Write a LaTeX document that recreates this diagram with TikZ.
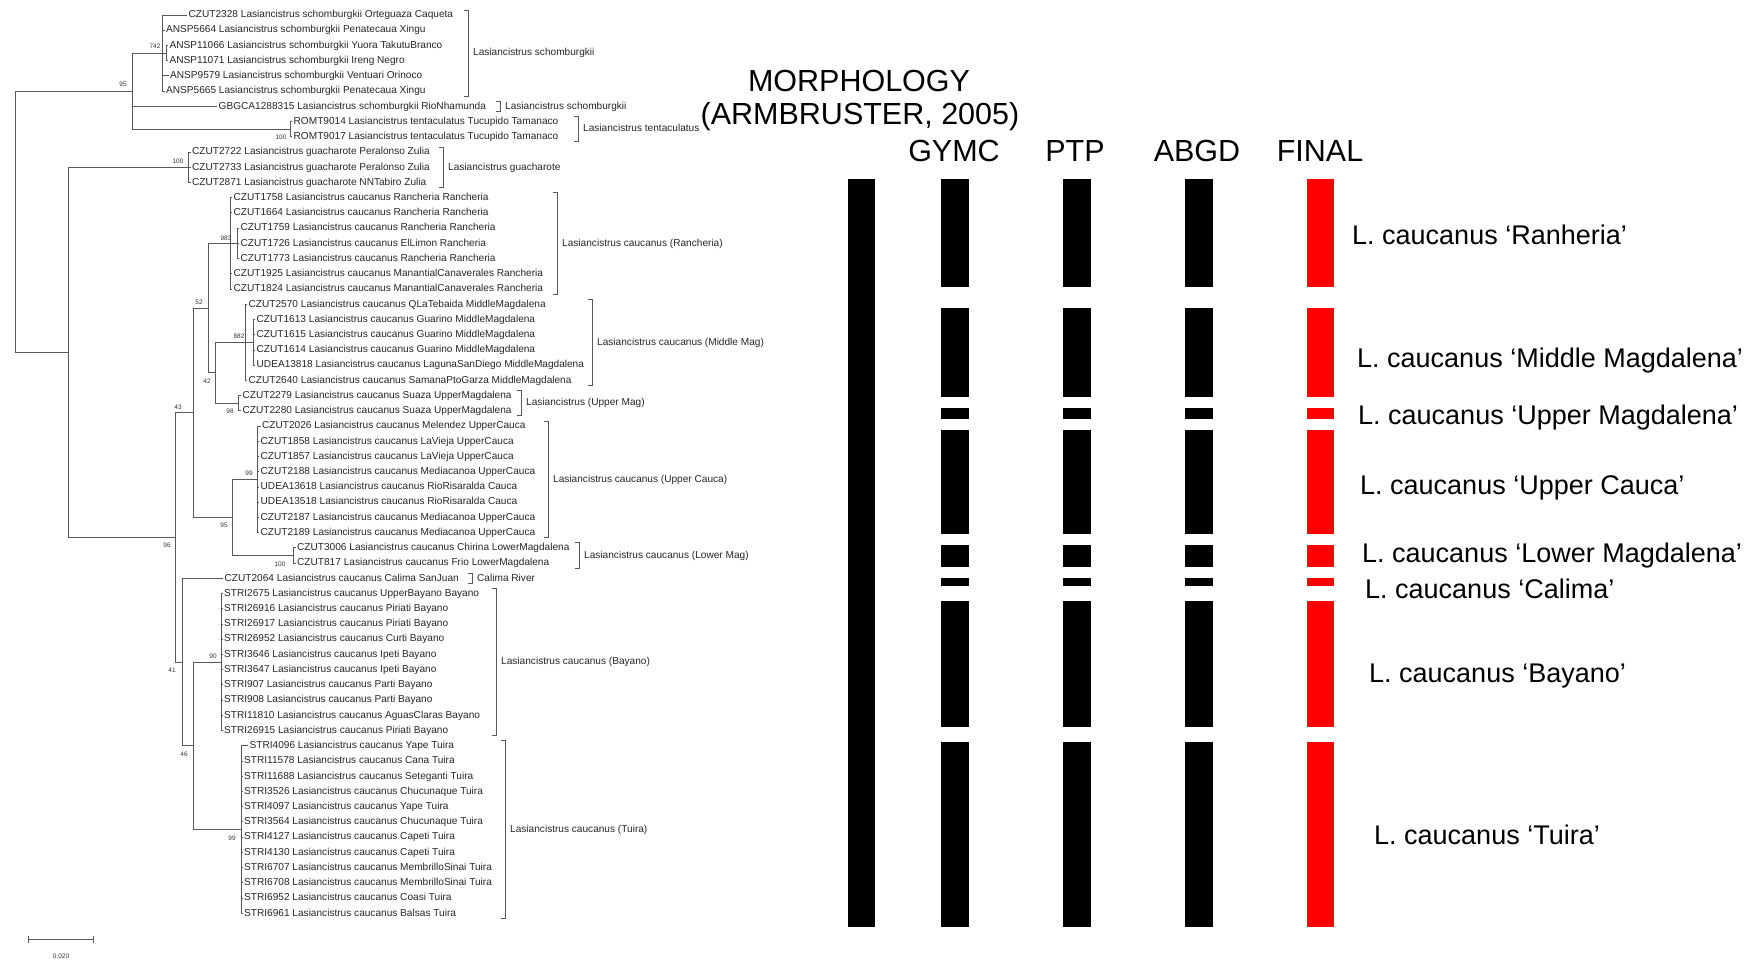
\documentclass[tikz,border=0pt]{standalone}
\usepackage{fontspec}
\setmainfont{Liberation Sans}
\usetikzlibrary{positioning, calc}

\tikzset{
  branch/.style={draw=black!65, line width=0.9pt},
  leaf/.style={anchor=west, inner sep=1.5pt, text height=7pt, text depth=1.5pt, text=black!85, font=\fontsize{10.1}{10}\selectfont},
  support/.style={inner sep=0pt, text=black!80, font=\fontsize{6.5}{7}\selectfont},
  clade/.style={anchor=west, inner sep=0pt, text height=7pt, text depth=1.5pt, text=black!85, font=\fontsize{10.1}{10}\selectfont},
  colhead/.style={inner sep=0pt, font=\fontsize{30.5}{31}\selectfont},
  species/.style={anchor=west, inner sep=0pt, text height=19.5pt, text depth=0pt, font=\fontsize{27}{28}\selectfont},
}

\begin{document}
\begin{tikzpicture}[x=1pt, y=-1pt]
  \useasboundingbox (0,0) rectangle (1757,962);

  \foreach \i/\x/\t in {
    1/187/{CZUT2328 Lasiancistrus schomburgkii Orteguaza Caqueta},
    2/164.5/{ANSP5664 Lasiancistrus schomburgkii Penatecaua Xingu},
    3/168/{ANSP11066 Lasiancistrus schomburgkii Yuora TakutuBranco},
    4/168/{ANSP11071 Lasiancistrus schomburgkii Ireng Negro},
    5/168.5/{ANSP9579 Lasiancistrus schomburgkii Ventuari Orinoco},
    6/164.5/{ANSP5665 Lasiancistrus schomburgkii Penatecaua Xingu},
    7/217/{GBGCA1288315 Lasiancistrus schomburgkii RioNhamunda},
    8/292/{ROMT9014 Lasiancistrus tentaculatus Tucupido Tamanaco},
    9/292/{ROMT9017 Lasiancistrus tentaculatus Tucupido Tamanaco},
    10/190.5/{CZUT2722 Lasiancistrus guacharote Peralonso Zulia},
    11/190.5/{CZUT2733 Lasiancistrus guacharote Peralonso Zulia},
    12/190.5/{CZUT2871 Lasiancistrus guacharote NNTabiro Zulia},
    13/232/{CZUT1758 Lasiancistrus caucanus Rancheria Rancheria},
    14/232/{CZUT1664 Lasiancistrus caucanus Rancheria Rancheria},
    15/239/{CZUT1759 Lasiancistrus caucanus Rancheria Rancheria},
    16/239/{CZUT1726 Lasiancistrus caucanus ElLimon Rancheria},
    17/239/{CZUT1773 Lasiancistrus caucanus Rancheria Rancheria},
    18/232/{CZUT1925 Lasiancistrus caucanus ManantialCanaverales Rancheria},
    19/232/{CZUT1824 Lasiancistrus caucanus ManantialCanaverales Rancheria},
    20/247/{CZUT2570 Lasiancistrus caucanus QLaTebaida MiddleMagdalena},
    21/255/{CZUT1613 Lasiancistrus caucanus Guarino MiddleMagdalena},
    22/255/{CZUT1615 Lasiancistrus caucanus Guarino MiddleMagdalena},
    23/255/{CZUT1614 Lasiancistrus caucanus Guarino MiddleMagdalena},
    24/255/{UDEA13818 Lasiancistrus caucanus LagunaSanDiego MiddleMagdalena},
    25/247/{CZUT2640 Lasiancistrus caucanus SamanaPtoGarza MiddleMagdalena},
    26/241/{CZUT2279 Lasiancistrus caucanus Suaza UpperMagdalena},
    27/241/{CZUT2280 Lasiancistrus caucanus Suaza UpperMagdalena},
    28/260.5/{CZUT2026 Lasiancistrus caucanus Melendez UpperCauca},
    29/259/{CZUT1858 Lasiancistrus caucanus LaVieja UpperCauca},
    30/259/{CZUT1857 Lasiancistrus caucanus LaVieja UpperCauca},
    31/259/{CZUT2188 Lasiancistrus caucanus Mediacanoa UpperCauca},
    32/259/{UDEA13618 Lasiancistrus caucanus RioRisaralda Cauca},
    33/259/{UDEA13518 Lasiancistrus caucanus RioRisaralda Cauca},
    34/259/{CZUT2187 Lasiancistrus caucanus Mediacanoa UpperCauca},
    35/259/{CZUT2189 Lasiancistrus caucanus Mediacanoa UpperCauca},
    36/295.5/{CZUT3006 Lasiancistrus caucanus Chirina LowerMagdalena},
    37/295.5/{CZUT817 Lasiancistrus caucanus Frio LowerMagdalena},
    38/223/{CZUT2064 Lasiancistrus caucanus Calima SanJuan},
    39/222.5/{STRI2675 Lasiancistrus caucanus UpperBayano Bayano},
    40/222.5/{STRI26916 Lasiancistrus caucanus Piriati Bayano},
    41/222.5/{STRI26917 Lasiancistrus caucanus Piriati Bayano},
    42/222.5/{STRI26952 Lasiancistrus caucanus Curti Bayano},
    43/222.5/{STRI3646 Lasiancistrus caucanus Ipeti Bayano},
    44/222.5/{STRI3647 Lasiancistrus caucanus Ipeti Bayano},
    45/222.5/{STRI907 Lasiancistrus caucanus Parti Bayano},
    46/222.5/{STRI908 Lasiancistrus caucanus Parti Bayano},
    47/222.5/{STRI11810 Lasiancistrus caucanus AguasClaras Bayano},
    48/222.5/{STRI26915 Lasiancistrus caucanus Piriati Bayano},
    49/248/{STRI4096 Lasiancistrus caucanus Yape Tuira},
    50/242.5/{STRI11578 Lasiancistrus caucanus Cana Tuira},
    51/242.5/{STRI11688 Lasiancistrus caucanus Seteganti Tuira},
    52/242.5/{STRI3526 Lasiancistrus caucanus Chucunaque Tuira},
    53/242.5/{STRI4097 Lasiancistrus caucanus Yape Tuira},
    54/242.5/{STRI3564 Lasiancistrus caucanus Chucunaque Tuira},
    55/242.5/{STRI4127 Lasiancistrus caucanus Capeti Tuira},
    56/242.5/{STRI4130 Lasiancistrus caucanus Capeti Tuira},
    57/242.5/{STRI6707 Lasiancistrus caucanus MembrilloSinai Tuira},
    58/242.5/{STRI6708 Lasiancistrus caucanus MembrilloSinai Tuira},
    59/242.5/{STRI6952 Lasiancistrus caucanus Coasi Tuira},
    60/242.5/{STRI6961 Lasiancistrus caucanus Balsas Tuira}} {
    \pgfmathsetmacro\ly{15+(\i-1)*15.225}
    \node[leaf] (l\i) at (\x,\ly) {\t};
  }

  \coordinate (root) at (15,221.75);
  \coordinate (scht) at (132,91.15);
  \coordinate (sch) at (162,53.1);
  \coordinate (sch34) at (166,53.1);
  \coordinate (tent) at (290,129.2);
  \coordinate (n2) at (68,352.35);
  \coordinate (guach) at (188,167.3);
  \coordinate (n3) at (175,537.4);
  \coordinate (n4) at (193,412.8);
  \coordinate (n5) at (208,308.1);
  \coordinate (ranc) at (230,243.4);
  \coordinate (ranc3) at (237,243.4);
  \coordinate (n6) at (215,372.8);
  \coordinate (mm) at (245,342.35);
  \coordinate (mm4) at (253,342.35);
  \coordinate (um) at (238,403.25);
  \coordinate (nuc) at (232,517.45);
  \coordinate (uc) at (257,479.4);
  \coordinate (lm) at (293,555.5);
  \coordinate (n7) at (182,662.05);
  \coordinate (n8) at (193,745.8);
  \coordinate (bay) at (221,662.1);
  \coordinate (tui) at (241,829.55);

  \draw[branch] (root) |- (scht) (root) |- (n2);
  \draw[branch] (scht) |- (sch) (scht) |- (l7.west) (scht) |- (tent);
  \draw[branch] (sch) |- (sch34) (sch34) |- (l3.west) (sch34) |- (l4.west);
  \foreach \i in {1,2,5,6} \draw[branch] (sch) |- (l\i.west);
  \draw[branch] (tent) |- (l8.west) (tent) |- (l9.west);
  \draw[branch] (n2) |- (guach) (n2) |- (n3);
  \foreach \i in {10,11,12} \draw[branch] (guach) |- (l\i.west);
  \draw[branch] (n3) |- (n4) (n3) |- (n7);
  \draw[branch] (n4) |- (n5) (n4) |- (nuc);
  \draw[branch] (n5) |- (ranc) (n5) |- (n6);
  \draw[branch] (ranc) |- (ranc3);
  \foreach \i in {13,14,18,19} \draw[branch] (ranc) |- (l\i.west);
  \foreach \i in {15,16,17} \draw[branch] (ranc3) |- (l\i.west);
  \draw[branch] (n6) |- (mm) (n6) |- (um);
  \draw[branch] (mm) |- (mm4) (mm) |- (l20.west) (mm) |- (l25.west);
  \foreach \i in {21,...,24} \draw[branch] (mm4) |- (l\i.west);
  \draw[branch] (um) |- (l26.west) (um) |- (l27.west);
  \draw[branch] (nuc) |- (uc) (nuc) |- (lm);
  \foreach \i in {28,...,35} \draw[branch] (uc) |- (l\i.west);
  \draw[branch] (lm) |- (l36.west) (lm) |- (l37.west);
  \draw[branch] (n7) |- (l38.west) (n7) |- (n8);
  \draw[branch] (n8) |- (bay) (n8) |- (tui);
  \foreach \i in {39,...,48} \draw[branch] (bay) |- (l\i.west);
  \foreach \i in {49,...,60} \draw[branch] (tui) |- (l\i.west);

  \foreach \n/\x/\y/\v in {a/155/46/742, b/123/84/95, c/281/137/100, d/178/161/100,
    e/226/238/983, f/199/302/52, g/239/336/882, h/207/381/42, i/230/411/98,
    j/178/407/43, k/249/473/99, m/224/525/95, o/167/545/96, p/280/564/100,
    q/213/656/90, r/172/670/41, s/184/754/46, t/232/838/99}
    \node[support] (sup\n) at (\x,\y) {\v};

  \foreach \a/\b/\x/\t in {1/6/468/{Lasiancistrus schomburgkii},
    7/7/500/{Lasiancistrus schomburgkii},
    8/9/578/{Lasiancistrus tentaculatus},
    10/12/443/{Lasiancistrus guacharote},
    13/19/557/{Lasiancistrus caucanus (Rancheria)},
    20/25/592/{Lasiancistrus caucanus (Middle Mag)},
    26/27/521/{Lasiancistrus (Upper Mag)},
    28/35/548/{Lasiancistrus caucanus (Upper Cauca)},
    36/37/579/{Lasiancistrus caucanus (Lower Mag)},
    38/38/472/{Calima River},
    39/48/496/{Lasiancistrus caucanus (Bayano)},
    49/60/505/{Lasiancistrus caucanus (Tuira)}} {
    \pgfmathsetmacro\ya{15+(\a-1)*15.225-5}
    \pgfmathsetmacro\yb{15+(\b-1)*15.225+5}
    \pgfmathsetmacro\ym{(\ya+\yb)/2}
    \draw[branch] (\x-4,\ya) -- (\x,\ya) -- (\x,\yb) -- (\x-4,\yb);
    \node[clade] (cl\a) at (\x+5,\ym) {\t};
  }

  \draw[branch] (28,935.5) -- (28,942.5) (28,939) -- (93,939) (93,935.5) -- (93,942.5);
  \node[support] (sbar) at (61,956) {0.020};

  \node[colhead] (hmorph) at (859,81) {MORPHOLOGY};
  \node[colhead] (harm) at (860,117) {(ARMBRUSTER, 2005)};
  \node[colhead] (hgymc) at (954,151) {GYMC};
  \node[colhead] (hptp) at (1075,151) {PTP};
  \node[colhead] (habgd) at (1197,151) {ABGD};
  \node[colhead] (hfinal) at (1320,151) {FINAL};

  \fill[black] (848,179) rectangle (875,927);
  \foreach \ya/\yb in {179/287, 308/397, 408/419, 430/534, 545/567, 578/586, 601/727, 742/927} {
    \foreach \x in {941,1063,1185} \fill[black] (\x,\ya) rectangle (\x+28,\yb);
    \fill[red] (1307,\ya) rectangle (1334,\yb);
  }

  \node[species] (sp1) at (1352,235) {L. caucanus ‘Ranheria’};
  \node[species] (sp2) at (1357,358) {L. caucanus ‘Middle Magdalena’};
  \node[species] (sp3) at (1358,415) {L. caucanus ‘Upper Magdalena’};
  \node[species] (sp4) at (1360,485) {L. caucanus ‘Upper Cauca’};
  \node[species] (sp5) at (1362,553) {L. caucanus ‘Lower Magdalena’};
  \node[species] (sp6) at (1365,589) {L. caucanus ‘Calima’};
  \node[species] (sp7) at (1369,673) {L. caucanus ‘Bayano’};
  \node[species] (sp8) at (1374,835) {L. caucanus ‘Tuira’};
\end{tikzpicture}
\end{document}
